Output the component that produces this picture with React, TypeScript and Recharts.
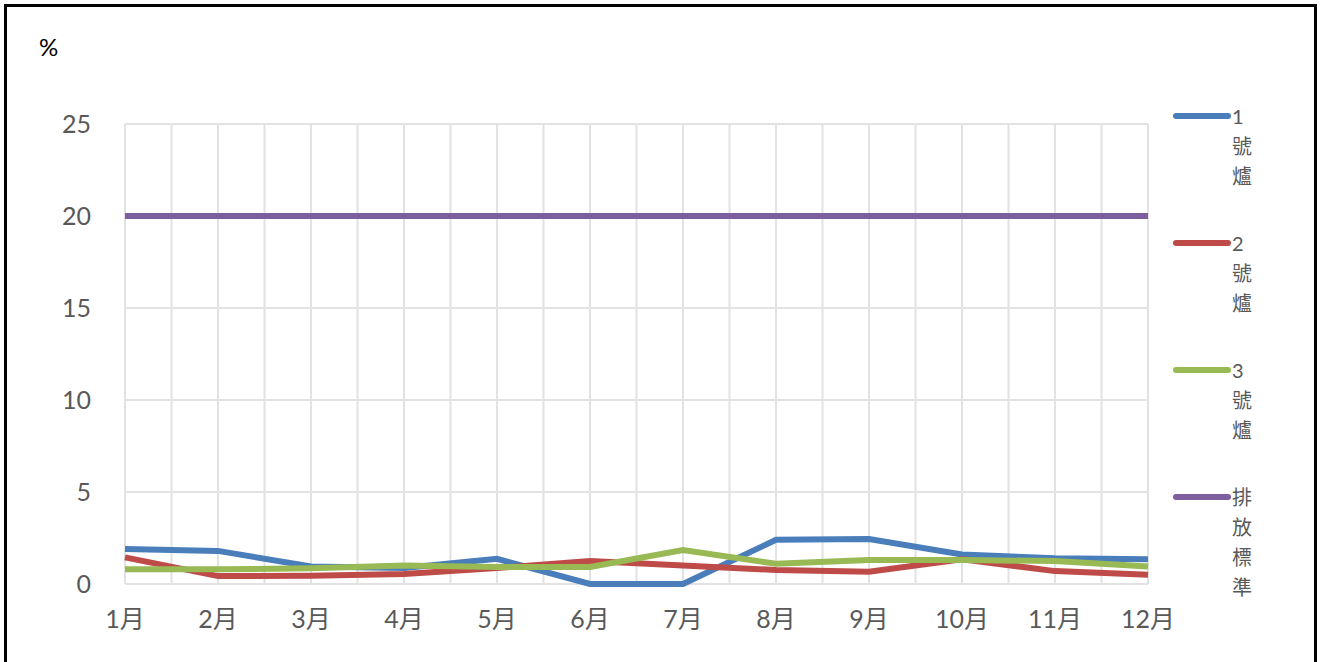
import React from "react";
import { LineChart, Line, XAxis, YAxis, CartesianGrid, Legend } from "recharts";

const months = ["1月", "2月", "3月", "4月", "5月", "6月", "7月", "8月", "9月", "10月", "11月", "12月"];
const furnace1 = [1.9, 1.8, 0.95, 0.87, 1.37, 0, 0, 2.4, 2.45, 1.6, 1.4, 1.35];
const furnace2 = [1.45, 0.43, 0.45, 0.55, 0.87, 1.25, 1.0, 0.76, 0.67, 1.35, 0.7, 0.5];
const furnace3 = [0.8, 0.8, 0.85, 1.0, 0.92, 0.92, 1.85, 1.1, 1.3, 1.3, 1.25, 0.95];
const standard = [20, 20, 20, 20, 20, 20, 20, 20, 20, 20, 20, 20];
const yTicks = [0, 5, 10, 15, 20, 25];

const series = [
  { key: "f1", name: "1號爐", color: "#4A7EBB" },
  { key: "f2", name: "2號爐", color: "#BE4B48" },
  { key: "f3", name: "3號爐", color: "#98B954" },
  { key: "std", name: "排放標準", color: "#7D5FA0" },
];

const data = months.map((m, i) => ({
  month: m,
  f1: furnace1[i],
  f2: furnace2[i],
  f3: furnace3[i],
  std: standard[i],
}));

const FONT = "Lato, 'Noto Sans CJK TC', sans-serif";

// vertical gridlines at every month and halfway between
const gridX = (props: any) => {
  const { offset } = props;
  const step = offset.width / (months.length - 1) / 2;
  const out: number[] = [];
  for (let i = 0; i <= (months.length - 1) * 2; i++) out.push(offset.left + step * i);
  return out;
};

const renderLegend = (props: any) => {
  const { payload } = props;
  return (
    <div style={{ width: 140 }}>
      {(payload || []).map((entry: any) => (
        <div key={entry.value} style={{ display: "flex", height: 127, alignItems: "flex-start" }}>
          <svg width={60} height={30} style={{ flex: "none" }}>
            <line x1={4} y1={15} x2={56} y2={15} stroke={entry.color} strokeWidth={6} strokeLinecap="round" />
          </svg>
          <div style={{ fontFamily: FONT, fontSize: 20, color: "#595959", lineHeight: "30px" }}>
            {String(entry.value).split("").map((ch, i) => (
              <div key={i}>{ch}</div>
            ))}
          </div>
        </div>
      ))}
    </div>
  );
};

export default function App() {
  return (
    <div style={{ position: "absolute", left: 0, top: 0, width: 1325, height: 662, overflow: "hidden", background: "#fff" }}>
      <div style={{ position: "absolute", left: 4, top: 4, width: 1313, height: 700, border: "3px solid #000", boxSizing: "border-box" }} />
      <div style={{ position: "absolute", left: 39, top: 32, fontFamily: FONT, fontSize: 24, color: "#000" }}>%</div>
      <div style={{ position: "absolute", left: 0, top: 0 }}>
        <LineChart width={1325} height={662} data={data} margin={{ top: 124, right: 37, bottom: 0, left: 0 }}>
          <CartesianGrid stroke="#E2E2E2" strokeWidth={2} verticalCoordinatesGenerator={gridX} />
          <XAxis
            dataKey="month"
            height={78}
            axisLine={false}
            tickLine={false}
            tick={{ fontFamily: FONT, fontSize: 25, fill: "#595959" }}
            tickMargin={20}
            interval={0}
          />
          <YAxis
            width={125}
            domain={[0, 25]}
            ticks={yTicks}
            axisLine={false}
            tickLine={false}
            tick={{ fontFamily: FONT, fontSize: 25, fill: "#595959" }}
            tickMargin={28}
          />
          <Legend
            layout="vertical"
            align="right"
            verticalAlign="top"
            content={renderLegend}
            wrapperStyle={{ left: 1172, top: 101, right: "auto", width: 140 }}
          />
          {series.map((s) => (
            <Line
              key={s.key}
              type="linear"
              dataKey={s.key}
              name={s.name}
              stroke={s.color}
              strokeWidth={6}
              dot={false}
              activeDot={false}
              isAnimationActive={false}
            />
          ))}
        </LineChart>
      </div>
    </div>
  );
}
